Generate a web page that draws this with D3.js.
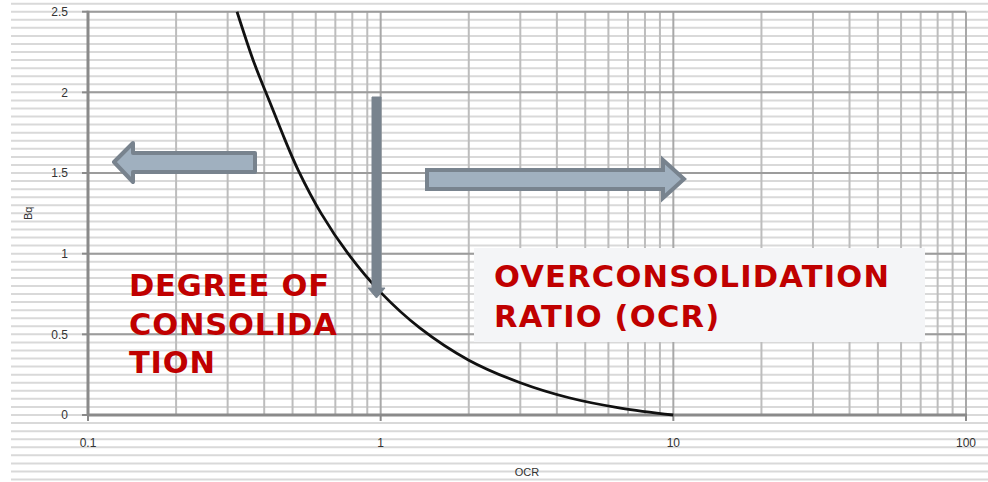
<!DOCTYPE html>
<html><head><meta charset="utf-8">
<script src="https://cdn.jsdelivr.net/npm/d3@7"></script>
<style>html,body{margin:0;padding:0;background:#fff;} svg{display:block;}</style>
</head><body><svg id="chart" width="988" height="482"></svg>
<script>
// ---- data ----
const ocr = [0.323, 0.37, 0.418, 0.47, 0.522, 0.626, 0.774, 1.0, 1.36, 2.0, 3.0, 4.4, 6.6, 10];
const bq  = [2.5, 2.18, 1.94, 1.71, 1.52, 1.25, 1.0, 0.76, 0.54, 0.34, 0.2, 0.107, 0.043, 0];
const xTicks = [0.1, 1, 10, 100];
const xTickLabels = ["0.1", "1", "10", "100"];
const yTicks = [0, 0.5, 1, 1.5, 2, 2.5];
const yTickLabels = ["0", "0.5", "1", "1.5", "2", "2.5"];
const xTitle = "OCR";
const yTitle = "Bq";
const leftText = ["DEGREE OF", "CONSOLIDA", "TION"];
const rightText = ["OVERCONSOLIDATION", "RATIO (OCR)"];

const svg = d3.select("#chart");
const W = 988, H = 482;
const m = {left: 88, right: W - 966, top: 11.7, bottom: H - 415};
const x = d3.scaleLog().domain([0.1, 100]).range([m.left, W - m.right]);
const y = d3.scaleLinear().domain([0, 2.5]).range([H - m.bottom, m.top]);

svg.append("rect").attr("width", W).attr("height", H).attr("fill", "#fff");

// background ruled lines (every 0.05 across the whole picture)
const bgVals = d3.range(-0.45, 2.56, 0.05).map(v => +v.toFixed(2));
svg.append("g").selectAll("line").data(bgVals).join("line")
  .attr("x1", 11).attr("x2", W)
  .attr("y1", d => y(d)).attr("y2", d => y(d))
  .attr("stroke", "#d9d9d9").attr("stroke-width", 2);

// vertical grid (log minor + decades)
const vGrid = [];
[0.1, 1, 10].forEach(dec => { for (let k = 1; k <= 9; k++) vGrid.push(dec * k); });
vGrid.push(100);
svg.append("g").selectAll("line").data(vGrid).join("line")
  .attr("x1", d => x(d)).attr("x2", d => x(d))
  .attr("y1", y(2.5)).attr("y2", y(0))
  .attr("stroke", d => xTicks.includes(+d.toPrecision(3)) ? "#a8a8a8" : "#bdbdbd")
  .attr("stroke-width", 2);

// horizontal major grid
svg.append("g").selectAll("line").data(yTicks).join("line")
  .attr("x1", x(0.1)).attr("x2", x(100))
  .attr("y1", d => y(d)).attr("y2", d => y(d))
  .attr("stroke", "#9c9c9c").attr("stroke-width", 2);

// axes lines
svg.append("line").attr("x1", x(0.1)).attr("x2", x(0.1)).attr("y1", y(2.5) - 1).attr("y2", y(0) + 1)
  .attr("stroke", "#8a8a8a").attr("stroke-width", 3);
svg.append("line").attr("x1", x(0.1)).attr("x2", x(100) + 1).attr("y1", y(0)).attr("y2", y(0))
  .attr("stroke", "#8a8a8a").attr("stroke-width", 3);

// y ticks and labels
const yAxis = svg.append("g");
yAxis.selectAll("line").data(yTicks).join("line")
  .attr("x1", x(0.1) - 6).attr("x2", x(0.1))
  .attr("y1", d => y(d)).attr("y2", d => y(d))
  .attr("stroke", "#8a8a8a").attr("stroke-width", 2);
yAxis.selectAll("text").data(yTicks).join("text")
  .attr("x", 68).attr("y", d => y(d)).attr("dy", "0.35em")
  .attr("text-anchor", "end")
  .attr("font-family", "Liberation Sans, Arial, sans-serif").attr("font-size", 12)
  .attr("fill", "#333")
  .text((d, i) => yTickLabels[i]);

// x ticks and labels
const xAxis = svg.append("g");
xAxis.selectAll("line").data(xTicks).join("line")
  .attr("x1", d => x(d)).attr("x2", d => x(d))
  .attr("y1", y(0)).attr("y2", y(0) + 6)
  .attr("stroke", "#8a8a8a").attr("stroke-width", 2);
xAxis.selectAll("text").data(xTicks).join("text")
  .attr("x", d => x(d)).attr("y", 447)
  .attr("text-anchor", "middle")
  .attr("font-family", "Liberation Sans, Arial, sans-serif").attr("font-size", 12)
  .attr("fill", "#333")
  .text((d, i) => xTickLabels[i]);

// axis titles
svg.append("text").attr("x", (x(0.1) + x(100)) / 2).attr("y", 476)
  .attr("text-anchor", "middle")
  .attr("font-family", "Liberation Sans, Arial, sans-serif").attr("font-size", 11)
  .attr("fill", "#333").text(xTitle);
svg.append("text").attr("transform", `translate(32,${(y(0) + y(2.5)) / 2}) rotate(-90)`)
  .attr("text-anchor", "middle")
  .attr("font-family", "Liberation Sans, Arial, sans-serif").attr("font-size", 11)
  .attr("fill", "#333").text(yTitle);

// curve
const pts = ocr.map((o, i) => [o, bq[i]]);
svg.append("path").datum(pts)
  .attr("d", d3.line().x(d => x(d[0])).y(d => y(d[1])).curve(d3.curveCatmullRom.alpha(0.5)))
  .attr("fill", "none").attr("stroke", "#111").attr("stroke-width", 2.8);

// right text box
svg.append("rect").attr("x", 474).attr("y", 248).attr("width", 451).attr("height", 94)
  .attr("fill", "#f4f5f7");
svg.append("g").selectAll("text").data(rightText).join("text")
  .attr("x", 494).attr("y", (d, i) => 287 + i * 39.5)
  .attr("font-family", "DejaVu Sans, Verdana, sans-serif").attr("font-weight", "bold")
  .attr("font-size", 30.5).attr("letter-spacing", 1.2)
  .attr("fill", "#c00000").text(d => d);

// left text
svg.append("g").selectAll("text").data(leftText).join("text")
  .attr("x", 129).attr("y", (d, i) => 296 + i * 38.5)
  .attr("font-family", "DejaVu Sans, Verdana, sans-serif").attr("font-weight", "bold")
  .attr("font-size", 30.5).attr("letter-spacing", 0.8)
  .attr("fill", "#c00000").text(d => d);

// arrows (annotations)
const arrowFill = "#a0b0bf", arrowStroke = "#78838e";
// left arrow
svg.append("path")
  .attr("d", "M255,153 L133,153 L133,143 L114,162 L133,182 L133,172 L255,172 Z")
  .attr("fill", arrowFill).attr("stroke", arrowStroke).attr("stroke-width", 4).attr("stroke-linejoin", "round");
// right arrow
svg.append("path")
  .attr("d", "M427,170 L663,170 L663,160 L684,179 L663,198 L663,189 L427,189 Z")
  .attr("fill", arrowFill).attr("stroke", arrowStroke).attr("stroke-width", 4).attr("stroke-linejoin", "miter");
// vertical arrow
svg.append("path")
  .attr("d", "M372,97 L381,97 L381,288 L385,288 L376.5,298 L368,288 L372,288 Z")
  .attr("fill", arrowStroke).attr("stroke", arrowStroke).attr("stroke-width", 1);
</script></body></html>
